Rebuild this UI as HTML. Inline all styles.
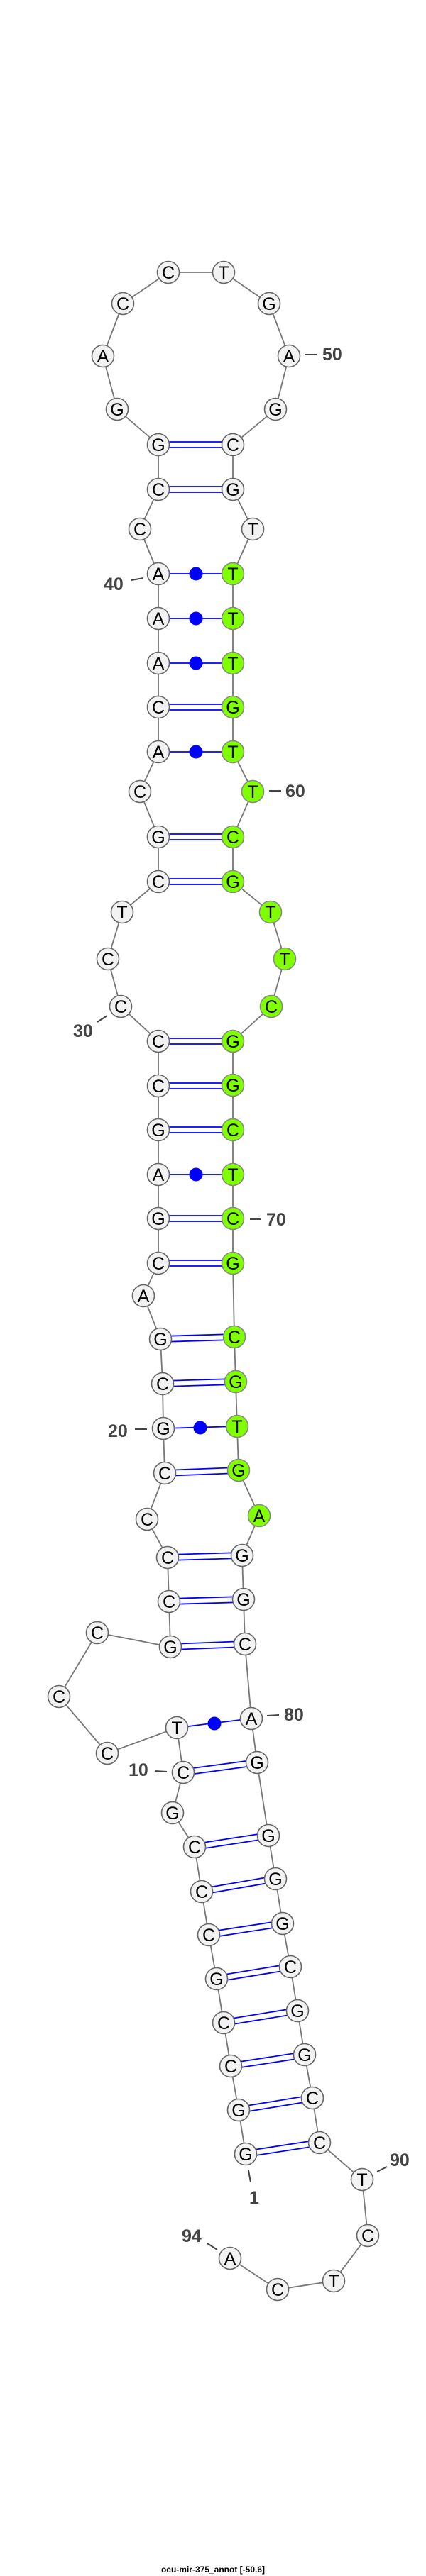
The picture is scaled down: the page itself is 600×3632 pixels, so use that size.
<!DOCTYPE html>
<html><head><meta charset="utf-8"><style>
html,body{margin:0;padding:0;background:#fff;}
svg{display:block;}
.n{fill:#f2f2f2;stroke:#666;stroke-width:1.6;}
.g{fill:#7fff00;stroke:#888;stroke-width:1.6;}
.t{font-family:"Liberation Sans",sans-serif;font-size:25px;text-anchor:middle;fill:#000;}
.l{font-family:"Liberation Sans",sans-serif;font-size:25px;font-weight:bold;fill:#444;}
.d{stroke:#444;stroke-width:2;}
.p{stroke:#0000ff;stroke-width:1.8;fill:none;}
</style></head><body>
<svg width="600" height="3632" viewBox="0 0 600 3632" xmlns="http://www.w3.org/2000/svg">
<polyline fill="none" stroke="#777" stroke-width="1.8" points="346,3037 336,2975 325,2913 315,2852 305,2790 294,2728 284,2667 274,2604 243,2556 258,2499 249,2436 151,2472 83,2392 137,2302 240,2322 238,2258 236,2196 207,2142 232,2077 230,2014 229,1951 226,1888 202,1827 223,1781 223,1718 223,1656 223,1593 223,1531 223,1468 170,1419 152,1352 172,1286 223,1243 223,1180 197,1116 223,1060 223,997 223,935 223,872 223,809 197,746 223,690 223,627 165,577 145,502 173,428 237,384 315,384 379,428 407,502 388,577 328,627 328,690 356,746 328,809 328,872 328,935 328,997 328,1060 356,1116 328,1180 328,1243 381,1286 401,1352 382,1419 328,1468 328,1530 328,1593 328,1656 328,1718 328,1781 330,1885 332,1948 334,2011 336,2073 365,2137 341,2193 343,2255 345,2318 354,2423 362,2485 378,2588 388,2649 398,2712 409,2773 419,2835 429,2897 440,2958 450,3021 510,3073 518,3152 470,3216 391,3228 324,3184"/>
<!-- double pairs -->
<g class="p">
<path d="M223,623 L328,623 M223,631 L328,631"/>
<path d="M223,686 L328,686 M223,694 L328,694"/>
<path d="M223,993 L328,993 M223,1001 L328,1001"/>
<path d="M223,1176 L328,1176 M223,1184 L328,1184"/>
<path d="M223,1239 L328,1239 M223,1247 L328,1247"/>
<path d="M223,1464 L328,1464 M223,1472 L328,1472"/>
<path d="M223,1527 L328,1527 M223,1535 L328,1535"/>
<path d="M223,1589 L328,1589 M223,1597 L328,1597"/>
<path d="M223,1714 L328,1714 M223,1722 L328,1722"/>
<path d="M223,1777 L328,1777 M223,1785 L328,1785"/>
<path d="M226,1884 L330,1881 M226,1892 L330,1889"/>
<path d="M229,1947 L332,1944 M229,1955 L332,1952"/>
<path d="M232,2073 L336,2069 M232,2081 L336,2077"/>
<path d="M236,2192 L341,2189 M236,2200 L341,2197"/>
<path d="M238,2254 L343,2251 M238,2262 L343,2259"/>
<path d="M240,2318 L345,2314 M240,2326 L345,2322"/>
<path d="M257,2495 L361,2481 M259,2503 L363,2489"/>
<path d="M273,2600 L377,2584 M275,2608 L379,2592"/>
<path d="M283,2663 L387,2645 M285,2671 L389,2653"/>
<path d="M293,2724 L397,2708 M295,2732 L399,2716"/>
<path d="M304,2786 L408,2769 M306,2794 L410,2777"/>
<path d="M314,2848 L418,2831 M316,2856 L420,2839"/>
<path d="M324,2909 L428,2893 M326,2917 L430,2901"/>
<path d="M335,2971 L439,2954 M337,2979 L441,2962"/>
<path d="M345,3033 L449,3017 M347,3041 L451,3025"/>
<!-- single pairs -->
<path d="M223,809 L328,809 M223,872 L328,872 M223,935 L328,935 M223,1060 L328,1060 M223,1656 L328,1656 M230,2014 L334,2011 M249,2436 L354,2423"/>
</g>
<g fill="#0000ff">
<circle cx="276" cy="809" r="9.5"/><circle cx="276" cy="872" r="9.5"/><circle cx="276" cy="935" r="9.5"/><circle cx="276" cy="1060" r="9.5"/><circle cx="276" cy="1656" r="9.5"/><circle cx="282" cy="2013" r="9.5"/><circle cx="302" cy="2430" r="9.5"/>
</g>
<!-- nodes -->
<g>
<circle class="n" cx="346" cy="3037" r="15.5"/><text class="t" x="346" y="3046">G</text>
<circle class="n" cx="336" cy="2975" r="15.5"/><text class="t" x="336" y="2984">G</text>
<circle class="n" cx="325" cy="2913" r="15.5"/><text class="t" x="325" y="2922">C</text>
<circle class="n" cx="315" cy="2852" r="15.5"/><text class="t" x="315" y="2861">C</text>
<circle class="n" cx="305" cy="2790" r="15.5"/><text class="t" x="305" y="2799">G</text>
<circle class="n" cx="294" cy="2728" r="15.5"/><text class="t" x="294" y="2737">C</text>
<circle class="n" cx="284" cy="2667" r="15.5"/><text class="t" x="284" y="2676">C</text>
<circle class="n" cx="274" cy="2604" r="15.5"/><text class="t" x="274" y="2613">C</text>
<circle class="n" cx="243" cy="2556" r="15.5"/><text class="t" x="243" y="2565">G</text>
<circle class="n" cx="258" cy="2499" r="15.5"/><text class="t" x="258" y="2508">C</text>
<circle class="n" cx="249" cy="2436" r="15.5"/><text class="t" x="249" y="2445">T</text>
<circle class="n" cx="151" cy="2472" r="15.5"/><text class="t" x="151" y="2481">C</text>
<circle class="n" cx="83" cy="2392" r="15.5"/><text class="t" x="83" y="2401">C</text>
<circle class="n" cx="137" cy="2302" r="15.5"/><text class="t" x="137" y="2311">C</text>
<circle class="n" cx="240" cy="2322" r="15.5"/><text class="t" x="240" y="2331">G</text>
<circle class="n" cx="238" cy="2258" r="15.5"/><text class="t" x="238" y="2267">C</text>
<circle class="n" cx="236" cy="2196" r="15.5"/><text class="t" x="236" y="2205">C</text>
<circle class="n" cx="207" cy="2142" r="15.5"/><text class="t" x="207" y="2151">C</text>
<circle class="n" cx="232" cy="2077" r="15.5"/><text class="t" x="232" y="2086">C</text>
<circle class="n" cx="230" cy="2014" r="15.5"/><text class="t" x="230" y="2023">G</text>
<circle class="n" cx="229" cy="1951" r="15.5"/><text class="t" x="229" y="1960">C</text>
<circle class="n" cx="226" cy="1888" r="15.5"/><text class="t" x="226" y="1897">G</text>
<circle class="n" cx="202" cy="1827" r="15.5"/><text class="t" x="202" y="1836">A</text>
<circle class="n" cx="223" cy="1781" r="15.5"/><text class="t" x="223" y="1790">C</text>
<circle class="n" cx="223" cy="1718" r="15.5"/><text class="t" x="223" y="1727">G</text>
<circle class="n" cx="223" cy="1656" r="15.5"/><text class="t" x="223" y="1665">A</text>
<circle class="n" cx="223" cy="1593" r="15.5"/><text class="t" x="223" y="1602">G</text>
<circle class="n" cx="223" cy="1531" r="15.5"/><text class="t" x="223" y="1540">C</text>
<circle class="n" cx="223" cy="1468" r="15.5"/><text class="t" x="223" y="1477">C</text>
<circle class="n" cx="170" cy="1419" r="15.5"/><text class="t" x="170" y="1428">C</text>
<circle class="n" cx="152" cy="1352" r="15.5"/><text class="t" x="152" y="1361">C</text>
<circle class="n" cx="172" cy="1286" r="15.5"/><text class="t" x="172" y="1295">T</text>
<circle class="n" cx="223" cy="1243" r="15.5"/><text class="t" x="223" y="1252">C</text>
<circle class="n" cx="223" cy="1180" r="15.5"/><text class="t" x="223" y="1189">G</text>
<circle class="n" cx="197" cy="1116" r="15.5"/><text class="t" x="197" y="1125">C</text>
<circle class="n" cx="223" cy="1060" r="15.5"/><text class="t" x="223" y="1069">A</text>
<circle class="n" cx="223" cy="997" r="15.5"/><text class="t" x="223" y="1006">C</text>
<circle class="n" cx="223" cy="935" r="15.5"/><text class="t" x="223" y="944">A</text>
<circle class="n" cx="223" cy="872" r="15.5"/><text class="t" x="223" y="881">A</text>
<circle class="n" cx="223" cy="809" r="15.5"/><text class="t" x="223" y="818">A</text>
<circle class="n" cx="197" cy="746" r="15.5"/><text class="t" x="197" y="755">C</text>
<circle class="n" cx="223" cy="690" r="15.5"/><text class="t" x="223" y="699">C</text>
<circle class="n" cx="223" cy="627" r="15.5"/><text class="t" x="223" y="636">G</text>
<circle class="n" cx="165" cy="577" r="15.5"/><text class="t" x="165" y="586">G</text>
<circle class="n" cx="145" cy="502" r="15.5"/><text class="t" x="145" y="511">A</text>
<circle class="n" cx="173" cy="428" r="15.5"/><text class="t" x="173" y="437">C</text>
<circle class="n" cx="237" cy="384" r="15.5"/><text class="t" x="237" y="393">C</text>
<circle class="n" cx="315" cy="384" r="15.5"/><text class="t" x="315" y="393">T</text>
<circle class="n" cx="379" cy="428" r="15.5"/><text class="t" x="379" y="437">G</text>
<circle class="n" cx="407" cy="502" r="15.5"/><text class="t" x="407" y="511">A</text>
<circle class="n" cx="388" cy="577" r="15.5"/><text class="t" x="388" y="586">G</text>
<circle class="n" cx="328" cy="627" r="15.5"/><text class="t" x="328" y="636">C</text>
<circle class="n" cx="328" cy="690" r="15.5"/><text class="t" x="328" y="699">G</text>
<circle class="n" cx="356" cy="746" r="15.5"/><text class="t" x="356" y="755">T</text>
<circle class="g" cx="328" cy="809" r="15.5"/><text class="t" x="328" y="818">T</text>
<circle class="g" cx="328" cy="872" r="15.5"/><text class="t" x="328" y="881">T</text>
<circle class="g" cx="328" cy="935" r="15.5"/><text class="t" x="328" y="944">T</text>
<circle class="g" cx="328" cy="997" r="15.5"/><text class="t" x="328" y="1006">G</text>
<circle class="g" cx="328" cy="1060" r="15.5"/><text class="t" x="328" y="1069">T</text>
<circle class="g" cx="356" cy="1116" r="15.5"/><text class="t" x="356" y="1125">T</text>
<circle class="g" cx="328" cy="1180" r="15.5"/><text class="t" x="328" y="1189">C</text>
<circle class="g" cx="328" cy="1243" r="15.5"/><text class="t" x="328" y="1252">G</text>
<circle class="g" cx="381" cy="1286" r="15.5"/><text class="t" x="381" y="1295">T</text>
<circle class="g" cx="401" cy="1352" r="15.5"/><text class="t" x="401" y="1361">T</text>
<circle class="g" cx="382" cy="1419" r="15.5"/><text class="t" x="382" y="1428">C</text>
<circle class="g" cx="328" cy="1468" r="15.5"/><text class="t" x="328" y="1477">G</text>
<circle class="g" cx="328" cy="1530" r="15.5"/><text class="t" x="328" y="1539">G</text>
<circle class="g" cx="328" cy="1593" r="15.5"/><text class="t" x="328" y="1602">C</text>
<circle class="g" cx="328" cy="1656" r="15.5"/><text class="t" x="328" y="1665">T</text>
<circle class="g" cx="328" cy="1718" r="15.5"/><text class="t" x="328" y="1727">C</text>
<circle class="g" cx="328" cy="1781" r="15.5"/><text class="t" x="328" y="1790">G</text>
<circle class="g" cx="330" cy="1885" r="15.5"/><text class="t" x="330" y="1894">C</text>
<circle class="g" cx="332" cy="1948" r="15.5"/><text class="t" x="332" y="1957">G</text>
<circle class="g" cx="334" cy="2011" r="15.5"/><text class="t" x="334" y="2020">T</text>
<circle class="g" cx="336" cy="2073" r="15.5"/><text class="t" x="336" y="2082">G</text>
<circle class="g" cx="365" cy="2137" r="15.5"/><text class="t" x="365" y="2146">A</text>
<circle class="n" cx="341" cy="2193" r="15.5"/><text class="t" x="341" y="2202">G</text>
<circle class="n" cx="343" cy="2255" r="15.5"/><text class="t" x="343" y="2264">G</text>
<circle class="n" cx="345" cy="2318" r="15.5"/><text class="t" x="345" y="2327">C</text>
<circle class="n" cx="354" cy="2423" r="15.5"/><text class="t" x="354" y="2432">A</text>
<circle class="n" cx="362" cy="2485" r="15.5"/><text class="t" x="362" y="2494">G</text>
<circle class="n" cx="378" cy="2588" r="15.5"/><text class="t" x="378" y="2597">G</text>
<circle class="n" cx="388" cy="2649" r="15.5"/><text class="t" x="388" y="2658">G</text>
<circle class="n" cx="398" cy="2712" r="15.5"/><text class="t" x="398" y="2721">G</text>
<circle class="n" cx="409" cy="2773" r="15.5"/><text class="t" x="409" y="2782">C</text>
<circle class="n" cx="419" cy="2835" r="15.5"/><text class="t" x="419" y="2844">G</text>
<circle class="n" cx="429" cy="2897" r="15.5"/><text class="t" x="429" y="2906">G</text>
<circle class="n" cx="440" cy="2958" r="15.5"/><text class="t" x="440" y="2967">C</text>
<circle class="n" cx="450" cy="3021" r="15.5"/><text class="t" x="450" y="3030">C</text>
<circle class="n" cx="510" cy="3073" r="15.5"/><text class="t" x="510" y="3082">T</text>
<circle class="n" cx="518" cy="3152" r="15.5"/><text class="t" x="518" y="3161">C</text>
<circle class="n" cx="470" cy="3216" r="15.5"/><text class="t" x="470" y="3225">T</text>
<circle class="n" cx="391" cy="3228" r="15.5"/><text class="t" x="391" y="3237">C</text>
<circle class="n" cx="324" cy="3184" r="15.5"/><text class="t" x="324" y="3193">A</text>
</g>
<!-- labels -->
<g class="d">
<line x1="429" y1="500" x2="446" y2="500"/>
<line x1="185" y1="818" x2="202" y2="815"/>
<line x1="379" y1="1115" x2="396" y2="1115"/>
<line x1="137" y1="1441" x2="151" y2="1432"/>
<line x1="352" y1="1719" x2="367" y2="1719"/>
<line x1="190" y1="2015" x2="207" y2="2015"/>
<line x1="376" y1="2419" x2="393" y2="2418"/>
<line x1="218" y1="2497" x2="235" y2="2498"/>
<line x1="350" y1="3060" x2="353" y2="3077"/>
<line x1="531" y1="3062" x2="545" y2="3055"/>
<line x1="292" y1="3163" x2="306" y2="3172"/>
</g>
<text class="l" x="454" y="508">50</text>
<text class="l" x="146" y="832">40</text>
<text class="l" x="402" y="1124">60</text>
<text class="l" x="103" y="1462">30</text>
<text class="l" x="375" y="1728">70</text>
<text class="l" x="152" y="2026">20</text>
<text class="l" x="400" y="2426">80</text>
<text class="l" x="181" y="2504">10</text>
<text class="l" x="351" y="3107">1</text>
<text class="l" x="549" y="3054">90</text>
<text class="l" x="256" y="3161">94</text>
<text x="300" y="3627" text-anchor="middle" font-family="Liberation Sans, sans-serif" font-size="12" font-weight="bold" fill="#000">ocu-mir-375_annot [-50.6]</text>
</svg>
</body></html>
